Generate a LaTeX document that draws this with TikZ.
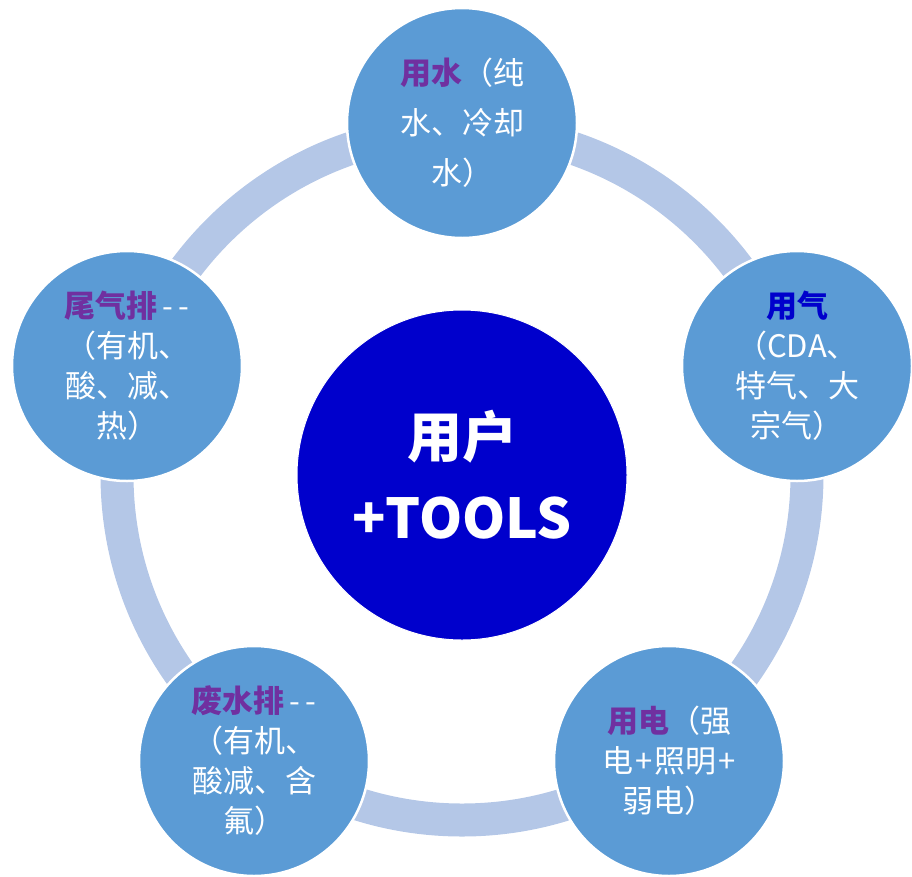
\documentclass[tikz,border=0pt]{standalone}
\usepackage{fontspec}
\setmainfont{Noto Sans CJK SC}
\definecolor{ringc}{HTML}{B4C7E7}
\definecolor{circc}{HTML}{5B9BD5}
\definecolor{purp}{HTML}{7030A0}
\definecolor{dblue}{HTML}{0000CC}
\tikzset{
  outer/.style={circle, fill=circc, draw=white, line width=2.5pt, minimum size=230pt, inner sep=0pt, text=white, align=center, font=\fontsize{31}{40}\selectfont},
  hub/.style={circle, fill=dblue, draw=white, line width=1pt, minimum size=330pt, inner sep=0pt, text=white, align=center, font=\fontsize{55}{81}\selectfont\bfseries},
  ringline/.style={draw=ringc, line width=33pt}
}
\newcommand{\pt}[1]{\textbf{\color{purp}#1}}
\newcommand{\dd}{\,-\,-}
\newcommand{\plusx}{\hspace{2pt}+\hspace{2pt}}
\begin{document}
\begin{tikzpicture}[x=1pt,y=-1pt]
\useasboundingbox (0,0) rectangle (912,876);
\coordinate (c0) at (462,475);
\draw[ringline] (c0) circle (345);
\node[hub] (hubn) at (c0) {用户\\+TOOLS};
\node[outer, font=\fontsize{31}{50}\selectfont] (water) at (462,123) {\pt{用水}（纯\\水、冷却\\水）};
\node[outer] (gas) at (797,366) {\textbf{\color{dblue}用气}\\（CDA、\\特气、大\\宗气）};
\node[outer] (power) at (669,761) {\pt{用电}（强\\电\plusx 照明\plusx\\弱电）};
\node[outer] (waste) at (254,761) {\pt{废水排}\dd\\（有机、\\酸减、含\\氟）};
\node[outer] (exhaust) at (127,366) {\pt{尾气排}\dd\\（有机、\\酸、减、\\热）};
\end{tikzpicture}
\end{document}
